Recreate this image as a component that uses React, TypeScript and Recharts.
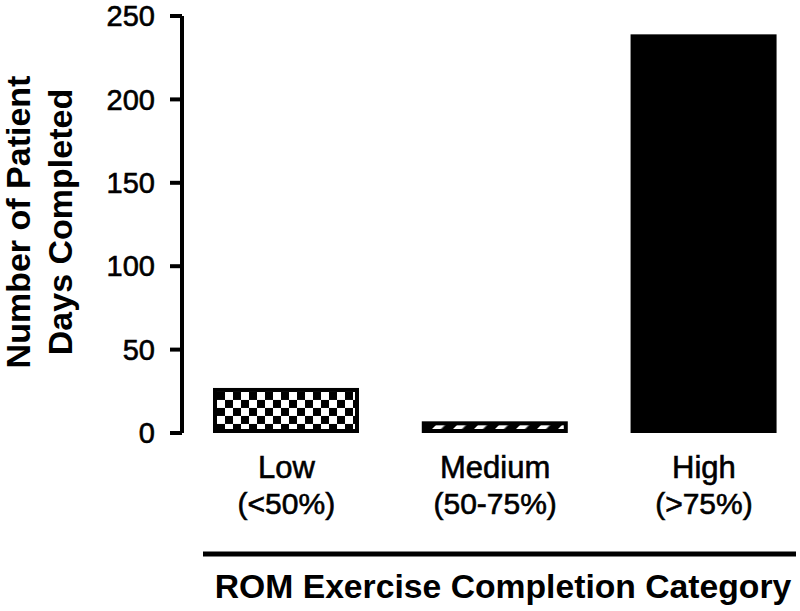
import React from 'react';
import { BarChart, Bar, XAxis, YAxis, Label } from 'recharts';

const categories = ['Low', 'Medium', 'High'];
const categoryRanges = ['(<50%)', '(50-75%)', '(>75%)'];
const patientDays = [27, 7, 239];
const yTicks = [0, 50, 100, 150, 200, 250];

const data = categories.map((c, i) => ({ name: c, range: categoryRanges[i], pos: i, days: patientDays[i] }));

const FONT = '"Liberation Sans", Arial, sans-serif';

const BarShape = (props: any) => {
  const { x, y, width, height, index } = props;
  if (width <= 0 || height <= 0) return null;
  const sw = 4;
  if (index === 0) {
    return (
      <g>
        <defs>
          <pattern id="checker" patternUnits="userSpaceOnUse" width={16} height={16} x={x + 4} y={y + 4}>
            <rect x={0} y={0} width={16} height={16} fill="#fff" />
            <rect x={0} y={0} width={8} height={8} fill="#000" />
            <rect x={8} y={8} width={8} height={8} fill="#000" />
          </pattern>
        </defs>
        <rect x={x + sw / 2} y={y + sw / 2} width={width - sw} height={height - sw} fill="url(#checker)" stroke="#000" strokeWidth={sw} />
      </g>
    );
  }
  if (index === 1) {
    return (
      <g>
        <defs>
          <pattern id="hatch" patternUnits="userSpaceOnUse" width={14.85} height={14.85} patternTransform="rotate(45)">
            <rect x={0} y={0} width={14.85} height={14.85} fill="#000" />
            <rect x={0} y={0} width={6.4} height={14.85} fill="#fff" />
          </pattern>
        </defs>
        <rect x={x + sw / 2} y={y + sw / 2} width={width - sw} height={height - sw} fill="url(#hatch)" stroke="#000" strokeWidth={sw} />
      </g>
    );
  }
  return <rect x={x} y={y} width={width} height={height} fill="#000" />;
};

const XTick = (props: any) => {
  const { x, y, payload } = props;
  const i = payload.value as number;
  return (
    <g>
      <text x={x} y={y + 45} textAnchor="middle" fontSize={31} fontFamily={FONT} fill="#000" stroke="#000" strokeWidth={0.6}>{categories[i]}</text>
      <text x={x} y={y + 81} textAnchor="middle" fontSize={30} fontFamily={FONT} fill="#000" stroke="#000" strokeWidth={0.6}>{categoryRanges[i]}</text>
    </g>
  );
};

const YTick = (props: any) => {
  const { x, y, payload } = props;
  return (
    <text x={x} y={y} dy="0.355em" textAnchor="end" fontSize={29} fontFamily={FONT} fill="#000" stroke="#000" strokeWidth={0.6}>
      {payload.value}
    </text>
  );
};

const XTitle = () => (
  <g>
    <line x1={203} x2={796} y1={554} y2={554} stroke="#000" strokeWidth={5} />
    <text x={503} y={598} textAnchor="middle" fontSize={33.7} fontWeight="bold" fontFamily={FONT} fill="#000">
      ROM Exercise Completion Category
    </text>
  </g>
);

const YTitle = () => (
  <g>
    <text x={30} y={222} transform="rotate(-90 30 222)" textAnchor="middle" fontSize={34} fontWeight="bold" fontFamily={FONT} fill="#000">
      Number of Patient
    </text>
    <text x={72} y={222} transform="rotate(-90 72 222)" textAnchor="middle" fontSize={34} fontWeight="bold" fontFamily={FONT} fill="#000">
      Days Completed
    </text>
  </g>
);

export default function App() {
  return (
    <div style={{ position: 'absolute', left: 0, top: 0, background: '#fff' }}>
      <BarChart width={800} height={611} data={data} margin={{ top: 16, right: 0, bottom: 0, left: 0 }}>
        <XAxis
          type="number"
          dataKey="pos"
          domain={[-0.5, 2.46]}
          allowDataOverflow
          ticks={[0, 1, 2]}
          tick={<XTick />}
          tickLine={false}
          axisLine={false}
          tickSize={0}
          tickMargin={0}
          height={178}
          interval={0}
        >
          <Label content={<XTitle />} />
        </XAxis>
        <YAxis
          type="number"
          domain={[0, 250]}
          ticks={yTicks}
          width={182}
          tickSize={12}
          tickMargin={15}
          tick={<YTick />}
          tickLine={{ stroke: '#000', strokeWidth: 4 }}
          axisLine={{ stroke: '#000', strokeWidth: 4 }}
          interval={0}
        >
          <Label content={<YTitle />} />
        </YAxis>
        <Bar dataKey="days" barSize={146} isAnimationActive={false} shape={<BarShape />} />
      </BarChart>
    </div>
  );
}
